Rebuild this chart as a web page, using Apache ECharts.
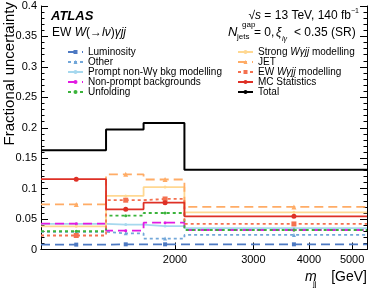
<!DOCTYPE html>
<html><head><meta charset="utf-8">
<script src="https://cdn.jsdelivr.net/npm/echarts@6/dist/echarts.min.js"></script>
<style>html,body{margin:0;padding:0;background:#fff}#c{width:374px;height:290px}</style>
</head><body><div id="c"></div>
<script>
// bin edges and marker positions (GeV)
const edges = [1000, 1400, 1700, 2100, 5400];
const markerX = [1200, 1550, 1900, 3700];
const xTicks = [2000, 3000, 4000, 5000];
// fractional uncertainties per bin
const lumi      = [0.008, 0.0085, 0.0085, 0.0085];
const other     = [0.029, 0.0265, 0.018, 0.024];
const promptBkg = [0.042, 0.041, 0.0385, 0.035];
const nonPrompt = [0.0425, 0.031, 0.044, 0.032];
const unfolding = [0.030, 0.0555, 0.060, 0.032];
const strongMod = [0.038, 0.088, 0.1025, 0.061];
const jet       = [0.074, 0.1235, 0.115, 0.070];
const ewMod     = [0.023, 0.081, 0.083, 0.042];
const mcStat    = [0.1155, 0.066, 0.077, 0.0545];
const total     = [0.163, 0.197, 0.208, 0.131];

const F = '"Liberation Sans", Arial, Helvetica, sans-serif';

function histData(vals, withMarkers) {
  const d = [];
  for (let i = 0; i < vals.length; i++) {
    d.push({ value: [edges[i], vals[i]], symbol: 'none' });
    if (withMarkers) d.push({ value: [markerX[i], vals[i]] });
  }
  d.push({ value: [edges[edges.length - 1], vals[vals.length - 1]], symbol: 'none' });
  return d;
}
function ser(name, vals, color, type, symbol, size, width) {
  return {
    name: name, type: 'line', step: 'end',
    data: histData(vals, symbol !== 'none'),
    symbol: symbol, symbolSize: size, showSymbol: true, showAllSymbol: true,
    lineStyle: { color: color, width: width || 1.8, type: type },
    itemStyle: { color: color },
    animation: false, silent: true, z: 2
  };
}
const series = [
  ser('Luminosity', lumi, '#4d79c2', [9, 5], 'rect', 4),
  ser('Other', other, '#72a7d9', [3, 3], 'triangle', 4),
  ser('Prompt non-W\u03b3 bkg modelling', promptBkg, '#a6d8ee', 'solid', 'circle', 3),
  ser('Non-prompt backgrounds', nonPrompt, '#e21ae2', [9, 5], 'circle', 3),
  ser('Unfolding', unfolding, '#3bb33b', [3, 3], 'circle', 3),
  ser('Strong W\u03b3jj modelling', strongMod, '#ffd892', 'solid', 'circle', 3),
  ser('JET', jet, '#ffac66', [9, 5], 'triangle', 5),
  ser('EW W\u03b3jj modelling', ewMod, '#f47150', [3, 3], 'rect', 5),
  ser('MC Statistics', mcStat, '#de3026', 'solid', 'circle', 5),
  ser('Total', total, '#000000', 'solid', 'none', 0, 2)
];
series[9].z = 3;

const legendText = { fontFamily: F, fontSize: 10, color: '#000', lineHeight: 10 };
const chart = echarts.init(document.getElementById('c'), null, { renderer: 'canvas' });
chart.setOption({
  animation: false,
  grid: { left: 41, right: 7, top: 6, bottom: 40.5, containLabel: false },
  legend: [
    { data: series.slice(0, 5).map(s => s.name), orient: 'vertical', left: 67, top: 47, padding: 0,
      itemWidth: 15, itemHeight: 5, itemGap: 0, textStyle: legendText, selectedMode: false },
    { data: series.slice(5).map(s => s.name), orient: 'vertical', left: 237, top: 47, padding: 0,
      itemWidth: 15, itemHeight: 5, itemGap: 0, selectedMode: false,
      textStyle: Object.assign({}, legendText, { rich: { i: { fontFamily: F, fontSize: 10, fontStyle: 'italic', lineHeight: 10 } } }),
      formatter: n => {
        if (n === 'Strong W\u03b3jj modelling') return 'Strong {i|W\u03b3jj} modelling';
        if (n === 'EW W\u03b3jj modelling') return 'EW {i|W\u03b3jj} modelling';
        return n;
      } }
  ],
  xAxis: [
    { type: 'log', logBase: 10, min: edges[0], max: edges[edges.length - 1],
      axisLine: { lineStyle: { color: '#000', width: 1 } },
      axisTick: { inside: true, length: 7, customValues: xTicks, lineStyle: { color: '#000' } },
      axisLabel: { customValues: xTicks, fontFamily: F, fontSize: 11, color: '#000', margin: 5,
        formatter: v => String(Math.round(v)) },
      splitLine: { show: false }, minorTick: { show: false } },
    { type: 'log', logBase: 10, min: edges[0], max: edges[edges.length - 1], position: 'top',
      axisLine: { lineStyle: { color: '#000', width: 1 } },
      axisTick: { show: false }, axisLabel: { show: false }, splitLine: { show: false } }
  ],
  yAxis: [
    { type: 'value', min: 0, max: 0.4, interval: 0.05,
      axisLine: { show: true, lineStyle: { color: '#000', width: 1 } },
      axisTick: { inside: true, length: 7, lineStyle: { color: '#000' } },
      minorTick: { show: true, splitNumber: 5, length: 3.5, lineStyle: { color: '#000' } },
      axisLabel: { fontFamily: F, fontSize: 11, color: '#000', margin: 4 },
      splitLine: { show: false } },
    { type: 'value', min: 0, max: 0.4, interval: 0.05, position: 'right',
      axisLine: { show: true, lineStyle: { color: '#000', width: 1 } },
      axisTick: { inside: true, length: 7, lineStyle: { color: '#000' } },
      minorTick: { show: true, splitNumber: 5, length: 3.5, lineStyle: { color: '#000' } },
      axisLabel: { show: false }, splitLine: { show: false } }
  ],
  series: series,
  graphic: [
    { type: 'text', x: 2, y: 2, rotation: Math.PI / 2, silent: true,
      style: { text: 'Fractional uncertainty', font: '15px ' + F, fill: '#000', textAlign: 'right', textVerticalAlign: 'top' } },
    { type: 'text', x: 51, y: 10, silent: true,
      style: { text: 'ATLAS', font: 'italic bold 13px ' + F, fill: '#000' } },
    { type: 'text', x: 52, y: 27, silent: true,
      style: { text: '{n|EW }{i|W}{n|(\u2192}{i|l\u03bd}{n|)}{i|\u03b3jj}', fill: '#000',
        rich: { n: { font: '12px ' + F }, i: { font: 'italic 12px ' + F } } } },
    { type: 'text', x: 351, y: 10, silent: true,
      style: { text: '{n|\u221a}{i|s}{n| = 13 TeV, 140 fb}', fill: '#000', textAlign: 'right',
        rich: { n: { font: '12px ' + F }, i: { font: 'italic 12px ' + F } } } },
    { type: 'text', x: 351, y: 8, silent: true,
      style: { text: '\u22121', font: '7px ' + F, fill: '#000' } },
    { type: 'text', x: 228, y: 26, silent: true,
      style: { text: 'N', font: 'italic 13px ' + F, fill: '#000' } },
    { type: 'text', x: 242, y: 21, silent: true,
      style: { text: 'gap', font: '8px ' + F, fill: '#000' } },
    { type: 'text', x: 237, y: 33, silent: true,
      style: { text: 'jets', font: '8px ' + F, fill: '#000' } },
    { type: 'text', x: 254, y: 27, silent: true,
      style: { text: '= 0, ', font: '12px ' + F, fill: '#000' } },
    { type: 'text', x: 276, y: 27, silent: true,
      style: { text: '\u03be', font: 'italic 12px ' + F, fill: '#000' } },
    { type: 'text', x: 282, y: 36, silent: true,
      style: { text: 'l\u03b3', font: 'italic 7px ' + F, fill: '#000' } },
    { type: 'text', x: 294, y: 27, silent: true,
      style: { text: '< 0.35 (SR)', font: '12px ' + F, fill: '#000' } },
    { type: 'text', x: 305, y: 277, silent: true,
      style: { text: 'm', font: 'italic 14px ' + F, fill: '#000', textVerticalAlign: 'middle' } },
    { type: 'text', x: 313, y: 284, silent: true,
      style: { text: 'jj', font: '8px ' + F, fill: '#000', textVerticalAlign: 'middle' } },
    { type: 'text', x: 367, y: 277, silent: true,
      style: { text: '[GeV]', font: '14px ' + F, fill: '#000', textAlign: 'right', textVerticalAlign: 'middle' } }
  ]
});
</script></body></html>
